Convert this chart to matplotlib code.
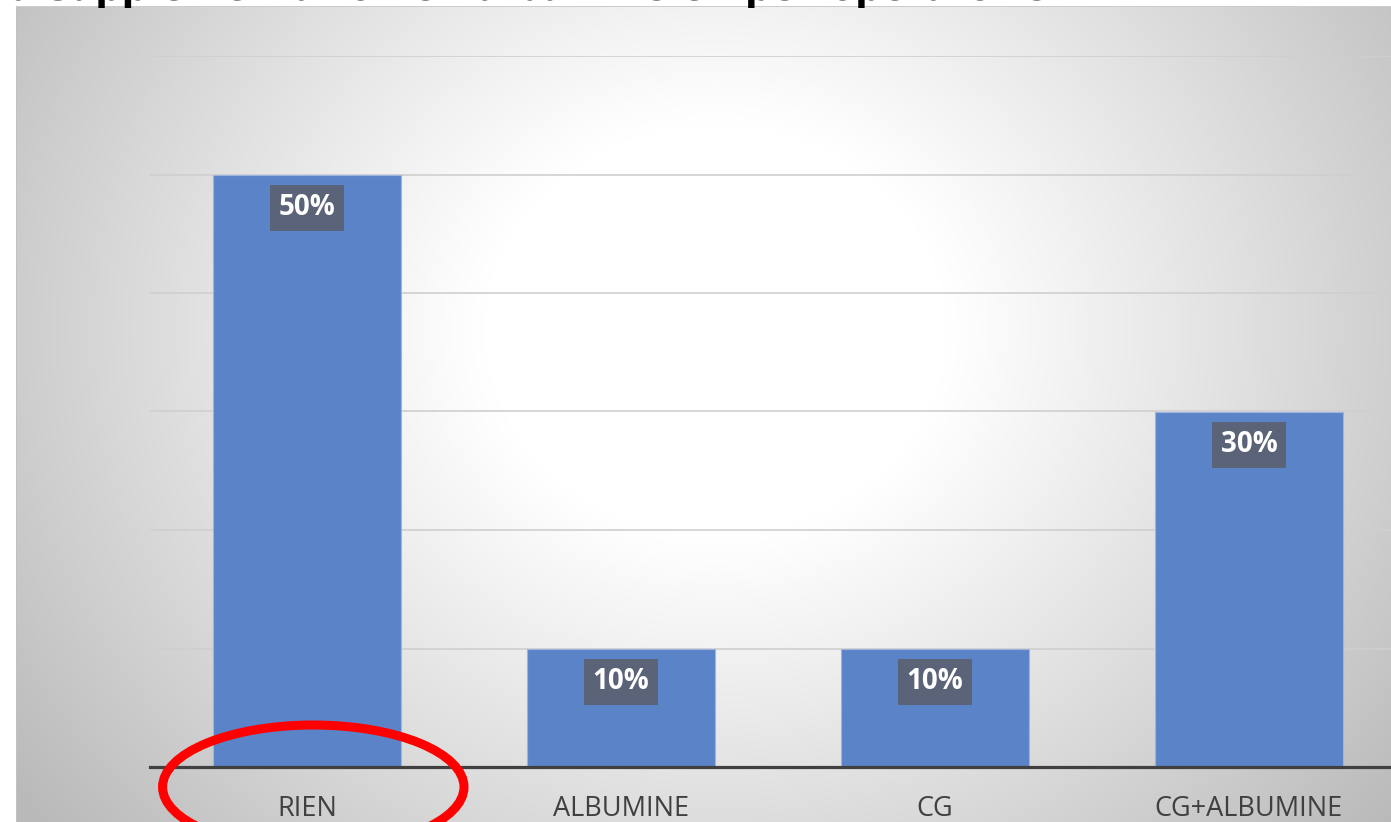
import numpy as np
import matplotlib
matplotlib.use("Agg")
import matplotlib.pyplot as plt
from matplotlib.patches import Ellipse
import matplotlib.transforms as mtransforms

# ---- data ----
categories = ["RIEN", "ALBUMINE", "CG", "CG+ALBUMINE"]
values = [50, 10, 10, 30]          # percent
value_labels = ["50%", "10%", "10%", "30%"]
title_text = "la supplémentation en albumine en per-opératoire."

W, H = 1391, 822
DPI = 100
fig = plt.figure(figsize=(W / DPI, H / DPI), dpi=DPI)
fig.patch.set_facecolor("white")

# ---- background radial gradient (chart area) ----
bg_ax = fig.add_axes([0, 0, 1, 1], zorder=0)
bg_ax.set_axis_off()
yy, xx = np.mgrid[0:H, 0:W].astype(float)
cx, cy, rx, ry = 715.0, 330.0, 700.0, 620.0
r = np.sqrt(((xx - cx) / rx) ** 2 + ((yy - cy) / ry) ** 2)
t = np.clip((r - 0.33) / 0.67, 0, None)
v = 255 - 50 * t ** 1.05
v = np.clip(v, 185, 255)
img = np.stack([v, v, v], axis=-1) / 255.0
x0, y0 = 16, 7
img[:y0, :, :] = 1.0
img[:, :x0, :] = 1.0
img[y0, x0:, :] = 0.80
img[y0:, x0, :] = 0.76
bg_ax.imshow(img, extent=[0, W, H, 0], aspect="auto", interpolation="nearest")
bg_ax.set_xlim(0, W)
bg_ax.set_ylim(H, 0)

# ---- title (cut off at top, as in the reference) ----
fig.text(1062 / W, 1 - 0.5 / H, title_text, ha="right", va="baseline",
         fontsize=26.5, fontweight="bold", family="DejaVu Sans", color="black",
         zorder=5)

# ---- main axes ----
left_px, right_px = 150, 150 + 314 * 4
base_px, top_px = 767, 56
ax = fig.add_axes([left_px / W, (H - base_px) / H,
                   (right_px - left_px) / W, (base_px - top_px) / H], zorder=2)
ax.patch.set_alpha(0)

x = np.arange(len(categories))
bar_vals = np.array(values) / 100.0
bars = ax.bar(x, bar_vals, width=0.6, color="#5B84C8",
              edgecolor="#9DB4E0", linewidth=0.8, zorder=3)

ax.set_xlim(-0.5, len(categories) - 0.5)
ax.set_ylim(0, 0.6)
ax.set_yticks(np.arange(0, 0.61, 0.1))
ax.yaxis.grid(True, color="#CFCFCF", linewidth=1.2, zorder=1)
ax.set_axisbelow(True)
ax.tick_params(axis="y", left=False, labelleft=False)
ax.set_xticks(x)
ax.set_xticklabels(categories, fontsize=19.5, family="Open Sans", color="#404040")
ax.tick_params(axis="x", bottom=False, pad=17)
for s in ["left", "right", "top"]:
    ax.spines[s].set_visible(False)
ax.spines["bottom"].set_color("#404040")
ax.spines["bottom"].set_linewidth(2.3)
ax.spines["bottom"].set_zorder(4)

# ---- data labels ----
for xi, val, lab in zip(x, bar_vals, value_labels):
    ax.annotate(lab, xy=(xi, val), xytext=(0, -24), textcoords="offset points",
                ha="center", va="center", fontsize=20, fontweight="bold",
                family="Open Sans", color="white", zorder=5,
                bbox=dict(boxstyle="square,pad=0.3", facecolor="#5A6377",
                          edgecolor="none"))

# ---- red highlight ellipse around first category ----
trans = mtransforms.blended_transform_factory(ax.transData, ax.transAxes)
ell = Ellipse((x[0] + 0.02, -20 / (base_px - top_px)), width=0.96,
              height=124 / (base_px - top_px), transform=trans,
              fill=False, edgecolor="#FF0000", linewidth=6.5, clip_on=False,
              zorder=6)
ax.add_patch(ell)

fig.savefig("out.png", dpi=DPI, facecolor="white")
